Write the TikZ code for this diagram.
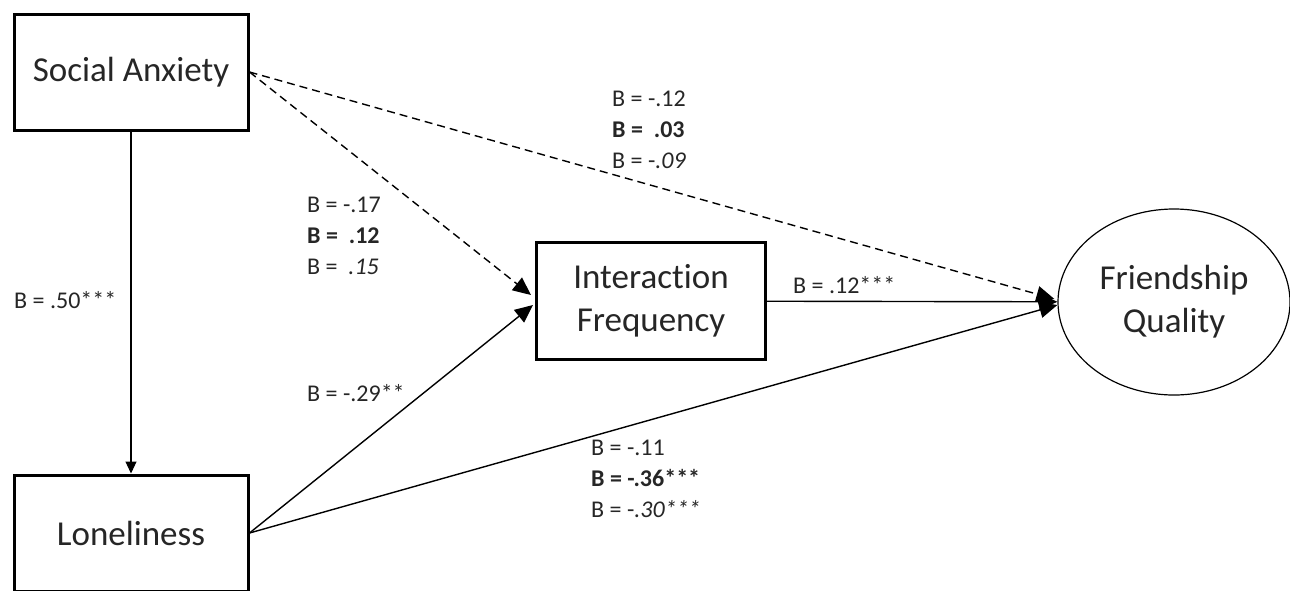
\documentclass[tikz,border=0pt]{standalone}
\usepackage{fontspec}
\setmainfont{Carlito}[Ligatures={NoCommon,NoRare}]
\usetikzlibrary{arrows.meta,calc,positioning,shapes.geometric}

\begin{document}
\begin{tikzpicture}[x=1pt,y=-1pt,>=Stealth,
  var/.style={draw,line width=3pt,minimum width=234pt,minimum height=116pt,
    align=center,text=black!85,font=\fontsize{35}{43}\selectfont},
  outc/.style={draw,ellipse,line width=1.2pt,minimum width=232pt,minimum height=186pt,
    align=center,text=black!85,font=\fontsize{35}{43}\selectfont},
  link/.style={line width=1.4pt,-{Triangle[length=18pt,width=16pt]}},
  nolink/.style={link,dash pattern=on 8pt off 5pt},
  coef/.style={anchor=west,align=left,inner sep=0pt,text=black!85,font=\fontsize{24}{31}\selectfont}]
\useasboundingbox (0,0) rectangle (1290,590);
% variables
\node[var] (anx) at (131,72) {Social Anxiety};
\node[var] (lon) at (131,533) {Loneliness};
\node[var,minimum width=229pt,minimum height=117pt] (freq) at (651,301) {Interaction\\Frequency};
\node[outc] (qual) at (1174,302) {Friendship\\Quality};
% paths
\draw[line width=1.2pt,-{Triangle[length=12pt,width=11pt]}] (anx) -- (lon);
\draw[nolink] (anx.east) -- ($(freq.west)+(-4,-6)$);
\draw[nolink] (anx.east) -- ($(qual.west)+(-3,-3)$);
\draw[link] (lon.east) -- ($(freq.west)+(-2,4)$);
\draw[link] (lon.east) -- ($(qual.west)+(0,3)$);
\draw[link] (freq) -- (qual);
% coefficients
\node[coef] (c1) at (14,300) {B = .50***};
\node[coef] (c2) at (307,236) {B = -.17\\\textbf{B = \ .12}\\B = \ \textit{.15}};
\node[coef] (c3) at (612,130) {B = -.12\\\textbf{B = \ .03}\\B = -\textit{.09}};
\node[coef] (c4) at (793,285) {B = .12***};
\node[coef] (c5) at (307,393) {B = -.29**};
\node[coef] (c6) at (591,479) {B = -.11\\\textbf{B = -.36***}\\B = -\textit{.30***}};
\end{tikzpicture}
\end{document}
